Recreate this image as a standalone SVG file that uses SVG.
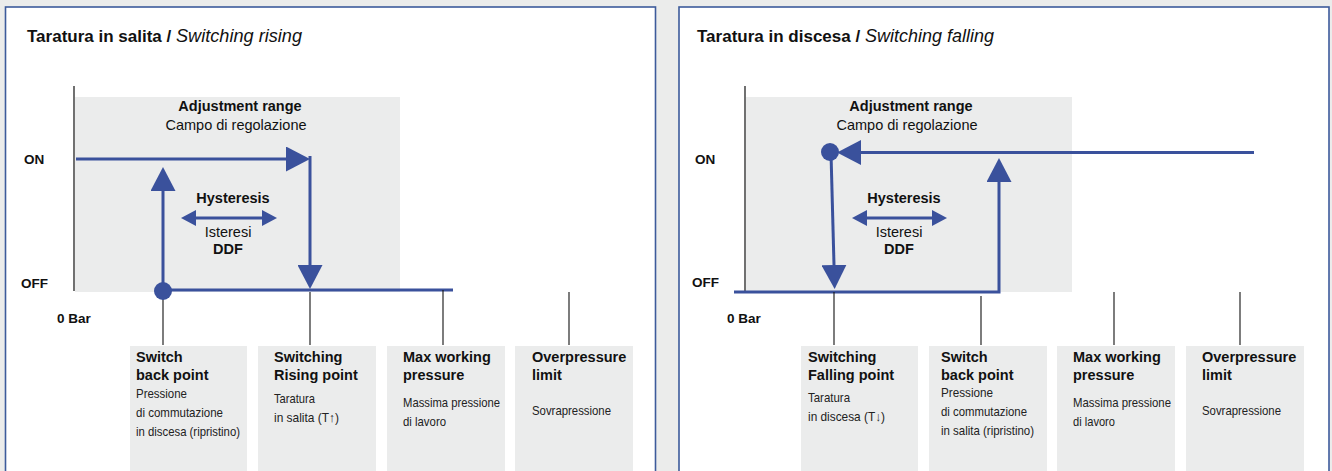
<svg xmlns="http://www.w3.org/2000/svg" width="1332" height="471" viewBox="0 0 1332 471">
<style>
.bg{fill:#ebeceb}
.panel{fill:#ffffff;stroke:#3d5b9b;stroke-width:1.6}
.range{fill:#ebecec}
.box{fill:#ebecec}
.axis{stroke:#111;stroke-width:1.2;fill:none}
.tick{stroke:#111;stroke-width:1.1;fill:none}
.flow{stroke:#3a519c;stroke-width:3;fill:none}
.hys{stroke:#3a519c;stroke-width:3;fill:none}
.dot{fill:#3a519c}
text{font-family:"Liberation Sans",Arial,sans-serif;fill:#111}
.title{font-size:17px;font-weight:bold}
.titlei{font-size:18px;font-style:italic}
.lbl{font-size:13.5px;font-weight:bold}
.b{font-size:14.5px;font-weight:bold}
.r{font-size:14.5px}
.bt{font-size:14.5px;font-weight:bold}
.st{font-size:12.8px;fill:#222}
.mid{text-anchor:middle}
</style>
<defs>
<marker id="big" markerUnits="userSpaceOnUse" markerWidth="25" markerHeight="25" refX="0" refY="12.5" orient="auto">
<path d="M0,0 L24,12.5 L0,25 Z" fill="#3a519c"/>
</marker>
<marker id="small" markerUnits="userSpaceOnUse" markerWidth="16" markerHeight="16" refX="0" refY="8" orient="auto-start-reverse">
<path d="M0,0 L15,8 L0,16 Z" fill="#3a519c"/>
</marker>
</defs>
<rect class="bg" x="0" y="0" width="1332" height="471"/>

<g id="panel-rising">
<rect class="panel" x="5.5" y="7" width="650" height="480"/>
<text class="title" x="27" y="42">Taratura in salita /</text>
<text class="titlei" x="176" y="42" textLength="126" lengthAdjust="spacingAndGlyphs">Switching rising</text>
</g>
<g id="panel-falling">
<rect class="panel" x="679" y="7" width="650" height="480"/>
<text class="title" x="697" y="42">Taratura in discesa /</text>
<text class="titlei" x="865" y="42" textLength="129" lengthAdjust="spacingAndGlyphs">Switching falling</text>
</g>

<!-- Rising chart -->
<g id="range-rising">
<rect class="range" x="75" y="97" width="325" height="195"/>
<text class="b mid" x="240" y="111">Adjustment range</text>
<text class="r mid" x="236" y="130">Campo di regolazione</text>
</g>
<g id="axis-rising">
<line class="axis" x1="74" y1="86" x2="74" y2="291"/>
<text class="lbl" x="24" y="164">ON</text>
<text class="lbl" x="21" y="288">OFF</text>
<text class="lbl" x="57" y="323">0 Bar</text>
</g>
<g id="hysteresis-rising">
<text class="b mid" x="233" y="203">Hysteresis</text>
<text class="r mid" x="228" y="237">Isteresi</text>
<text class="b mid" x="228" y="254">DDF</text>
</g>

<!-- Falling chart -->
<g id="range-falling">
<rect class="range" x="746" y="97" width="326" height="195"/>
<text class="b mid" x="911" y="111">Adjustment range</text>
<text class="r mid" x="907" y="130">Campo di regolazione</text>
</g>
<g id="axis-falling">
<line class="axis" x1="745" y1="86" x2="745" y2="292"/>
<text class="lbl" x="695" y="164">ON</text>
<text class="lbl" x="692" y="287">OFF</text>
<text class="lbl" x="727" y="323">0 Bar</text>
</g>
<g id="hysteresis-falling">
<text class="b mid" x="904" y="203">Hysteresis</text>
<text class="r mid" x="899" y="237">Isteresi</text>
<text class="b mid" x="899" y="254">DDF</text>
</g>

<g id="connectors">
<!-- rising -->
<path class="flow" d="M76,159 H286" marker-end="url(#big)"/>
<path class="flow" d="M310,156 V265" marker-end="url(#big)"/>
<path class="flow" d="M163,290 V191" marker-end="url(#big)"/>
<path class="flow" d="M163,290 H453"/>
<path class="hys" d="M196,218 H262" marker-start="url(#small)" marker-end="url(#small)"/>
<line class="tick" x1="163" y1="292" x2="163" y2="345"/>
<line class="tick" x1="310" y1="292" x2="310" y2="345"/>
<line class="tick" x1="443" y1="290" x2="443" y2="345"/>
<line class="tick" x1="569" y1="292" x2="569" y2="345"/>
<!-- falling -->
<path class="flow" d="M1254,152.5 H861" marker-end="url(#big)"/>
<path class="flow" d="M831,153 L834,265" marker-end="url(#big)"/>
<path class="flow" d="M734,292 H999 V182" marker-end="url(#big)"/>
<path class="hys" d="M867,218 H932" marker-start="url(#small)" marker-end="url(#small)"/>
<line class="tick" x1="834" y1="292" x2="834" y2="345"/>
<line class="tick" x1="981" y1="296" x2="981" y2="345"/>
<line class="tick" x1="1114" y1="292" x2="1114" y2="345"/>
<line class="tick" x1="1240" y1="292" x2="1240" y2="345"/>
</g>
<g id="dot-rising"><circle class="dot" cx="163" cy="291" r="9"/></g>
<g id="dot-falling"><circle class="dot" cx="830" cy="152" r="9"/></g>

<!-- Rising boxes -->
<g id="box-r1">
<rect class="box" x="130" y="346" width="117" height="130"/>
<text class="bt" x="136" y="362">Switch</text>
<text class="bt" x="136" y="380">back point</text>
<text class="st" x="136" y="398" textLength="51" lengthAdjust="spacingAndGlyphs">Pressione</text>
<text class="st" x="136" y="417" textLength="87" lengthAdjust="spacingAndGlyphs">di commutazione</text>
<text class="st" x="136" y="436" textLength="104" lengthAdjust="spacingAndGlyphs">in discesa (ripristino)</text>
</g>
<g id="box-r2">
<rect class="box" x="258" y="346" width="118" height="130"/>
<text class="bt" x="274" y="362">Switching</text>
<text class="bt" x="274" y="380">Rising point</text>
<text class="st" x="274" y="403" textLength="41" lengthAdjust="spacingAndGlyphs">Taratura</text>
<text class="st" x="274" y="422" textLength="65" lengthAdjust="spacingAndGlyphs">in salita (T↑)</text>
</g>
<g id="box-r3">
<rect class="box" x="387" y="346" width="118" height="130"/>
<text class="bt" x="403" y="362">Max working</text>
<text class="bt" x="403" y="380">pressure</text>
<text class="st" x="403" y="407" textLength="97" lengthAdjust="spacingAndGlyphs">Massima pressione</text>
<text class="st" x="403" y="426" textLength="43" lengthAdjust="spacingAndGlyphs">di lavoro</text>
</g>
<g id="box-r4">
<rect class="box" x="515" y="346" width="118" height="130"/>
<text class="bt" x="532" y="362">Overpressure</text>
<text class="bt" x="532" y="380">limit</text>
<text class="st" x="532" y="415" textLength="79" lengthAdjust="spacingAndGlyphs">Sovrapressione</text>
</g>

<!-- Falling boxes -->
<g id="box-f1">
<rect class="box" x="801" y="346" width="117" height="130"/>
<text class="bt" x="808" y="362">Switching</text>
<text class="bt" x="808" y="380">Falling point</text>
<text class="st" x="808" y="402" textLength="42" lengthAdjust="spacingAndGlyphs">Taratura</text>
<text class="st" x="808" y="421" textLength="77" lengthAdjust="spacingAndGlyphs">in discesa (T↓)</text>
</g>
<g id="box-f2">
<rect class="box" x="929" y="346" width="118" height="130"/>
<text class="bt" x="941" y="362">Switch</text>
<text class="bt" x="941" y="380">back point</text>
<text class="st" x="941" y="397" textLength="52" lengthAdjust="spacingAndGlyphs">Pressione</text>
<text class="st" x="941" y="416" textLength="86" lengthAdjust="spacingAndGlyphs">di commutazione</text>
<text class="st" x="941" y="435" textLength="93" lengthAdjust="spacingAndGlyphs">in salita (ripristino)</text>
</g>
<g id="box-f3">
<rect class="box" x="1057" y="346" width="118" height="130"/>
<text class="bt" x="1073" y="362">Max working</text>
<text class="bt" x="1073" y="380">pressure</text>
<text class="st" x="1073" y="407" textLength="98" lengthAdjust="spacingAndGlyphs">Massima pressione</text>
<text class="st" x="1073" y="426" textLength="42" lengthAdjust="spacingAndGlyphs">di lavoro</text>
</g>
<g id="box-f4">
<rect class="box" x="1186" y="346" width="118" height="130"/>
<text class="bt" x="1202" y="362">Overpressure</text>
<text class="bt" x="1202" y="380">limit</text>
<text class="st" x="1202" y="415" textLength="79" lengthAdjust="spacingAndGlyphs">Sovrapressione</text>
</g>
</svg>
